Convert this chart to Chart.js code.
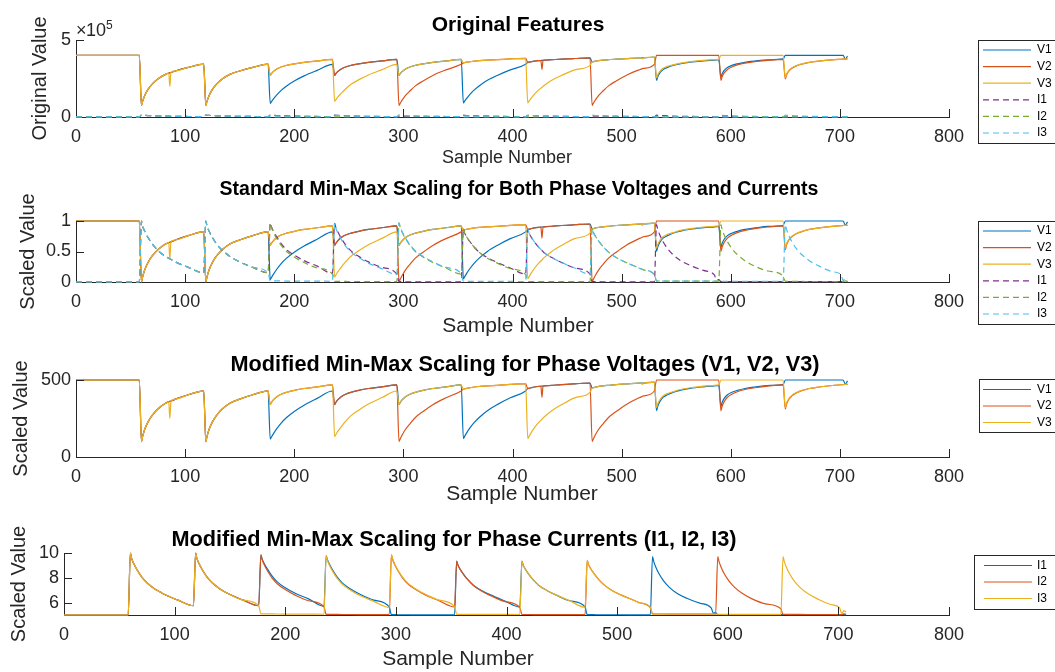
<!DOCTYPE html>
<html>
<head>
<meta charset="utf-8">
<title>Feature scaling</title>
<script src="https://cdn.jsdelivr.net/npm/chart.js@4.4.1/dist/chart.umd.min.js"></script>
<style>
  body { margin: 0; background: #fff; }
  #wrap { position: relative; width: 1055px; height: 672px; overflow: hidden; }
  #wrap canvas { position: absolute; left: 0; }
</style>
</head>
<body>
<div id="wrap">
  <canvas id="p1" width="1055" height="168" style="top:0px"></canvas>
  <canvas id="p2" width="1055" height="172" style="top:168px"></canvas>
  <canvas id="p3" width="1055" height="170" style="top:340px"></canvas>
  <canvas id="p4" width="1055" height="162" style="top:510px"></canvas>
</div>
<script>
// sample numbers of the stored points (one row per fault window)
const samples = [
  0, 58,
  60, 61, 63, 66, 70, 75, 82, 85, 86, 87, 91, 103, 117,
  119, 120, 122, 125, 129, 134, 141, 150, 162, 176,
  178, 179, 181, 184, 188, 193, 200, 209, 221, 235,
  237, 238, 240, 243, 247, 252, 259, 268, 280, 294,
  296, 297, 299, 302, 306, 311, 318, 327, 339, 353,
  355, 356, 358, 361, 365, 370, 377, 386, 398, 412,
  414, 415, 417, 420, 424, 426, 427, 428, 429, 436, 445, 457, 471,
  473, 474, 476, 479, 483, 488, 495, 504, 516, 518, 519, 520, 530,
  532, 533, 535, 538, 542, 547, 554, 563, 575, 585, 587, 589,
  591, 592, 594, 597, 601, 606, 613, 622, 634, 648,
  650, 651, 653, 656, 660, 665, 672, 681, 693, 701, 703, 705, 707
];

// phase voltages, kV
const v1 = [
  400, 400,
  75, 101, 140, 179, 215, 247, 277, 285, 287, 289, 299, 322, 343,
  75, 101, 140, 179, 215, 247, 277, 299, 322, 343,
  88, 98, 117, 143, 173, 202, 234, 267, 303, 342,
  270, 280, 296, 312, 325, 335, 345, 355, 364, 374,
  270, 280, 296, 312, 325, 335, 345, 355, 364, 374,
  91, 101, 121, 147, 176, 205, 238, 270, 306, 342,
  355, 356, 359, 363, 366, 367, 368, 368, 369, 372, 376, 380, 384,
  358, 359, 363, 366, 369, 372, 376, 379, 383, 383, 384, 384, 389,
  238, 260, 286, 309, 322, 335, 346, 356, 364, 369, 370, 371,
  260, 280, 303, 322, 335, 345, 355, 363, 371, 377,
  400, 400, 400, 400, 400, 400, 400, 400, 400, 400, 400, 377, 395
];
const v2 = [
  400, 400,
  75, 101, 140, 179, 215, 247, 277, 285, 287, 289, 299, 322, 343,
  75, 101, 140, 179, 215, 247, 277, 299, 322, 343,
  270, 280, 296, 312, 325, 335, 345, 355, 364, 374,
  270, 280, 296, 312, 325, 335, 345, 355, 364, 374,
  75, 88, 111, 140, 169, 202, 234, 270, 306, 342,
  351, 353, 356, 359, 363, 366, 369, 372, 377, 381,
  355, 356, 359, 363, 366, 367, 309, 368, 369, 372, 376, 380, 384,
  75, 88, 111, 140, 169, 202, 234, 270, 306, 311, 314, 316, 342,
  400, 400, 400, 400, 400, 400, 400, 400, 400, 400, 400, 400,
  238, 260, 286, 309, 325, 338, 350, 359, 368, 374,
  247, 270, 296, 316, 332, 343, 355, 363, 371, 375, 376, 377, 377
];
const v3 = [
  400, 400,
  75, 101, 140, 179, 215, 247, 277, 285, 198, 289, 299, 322, 343,
  75, 101, 140, 179, 215, 247, 277, 299, 322, 343,
  270, 280, 296, 312, 325, 335, 345, 355, 364, 374,
  101, 111, 130, 153, 182, 212, 241, 273, 306, 342,
  270, 280, 296, 312, 325, 335, 345, 355, 364, 374,
  351, 353, 356, 359, 363, 366, 369, 372, 377, 381,
  91, 101, 121, 147, 176, 187, 193, 199, 205, 238, 270, 306, 335,
  358, 359, 363, 366, 369, 372, 376, 379, 383, 383, 377, 384, 389,
  254, 273, 296, 316, 329, 338, 350, 359, 368, 372, 373, 374,
  400, 400, 400, 400, 400, 400, 400, 400, 400, 400,
  254, 277, 299, 319, 333, 345, 355, 363, 371, 375, 376, 377, 378
];

// phase currents, A
const i1 = [
  500, 500,
  12500, 11540, 10460, 9260, 7940, 6740, 5540, 5180, 5060, 4940, 4460, 3380, 2300,
  12500, 11540, 10460, 9260, 7940, 6740, 5540, 4460, 3380, 2300,
  12140, 11420, 10460, 9380, 8060, 6860, 5780, 4700, 3620, 2180,
  12020, 11300, 10340, 9140, 7820, 6620, 5540, 4460, 3380, 2060,
  560, 560, 555, 550, 550, 545, 540, 540, 535, 530,
  10940, 10220, 9380, 8420, 7340, 6260, 5300, 4340, 3260, 2060,
  10940, 10220, 9380, 8420, 7340, 6910, 6690, 6480, 6260, 5300, 4340, 3260, 2060,
  560, 560, 555, 555, 550, 550, 545, 545, 540, 540, 540, 540, 540,
  11780, 10940, 9740, 8420, 7100, 5900, 4700, 3740, 2780, 1880, 860, 980,
  600, 600, 595, 590, 590, 585, 580, 580, 575, 570,
  600, 600, 595, 590, 590, 585, 580, 580, 575, 570, 570, 570, 570
];
const i2 = [
  500, 500,
  12500, 11540, 10460, 9260, 7940, 6740, 5540, 5180, 5060, 4940, 4460, 3380, 2300,
  12500, 11540, 10460, 9260, 7940, 6740, 5540, 4460, 3380, 2300,
  12140, 11300, 10220, 9020, 7700, 6500, 5420, 4340, 3260, 2060,
  620, 620, 615, 610, 605, 600, 595, 590, 585, 580,
  12140, 11300, 10220, 9020, 7700, 6500, 5420, 4340, 3260, 2060,
  10940, 10220, 9380, 8420, 7340, 6260, 5180, 4220, 3140, 1940,
  600, 600, 595, 595, 590, 590, 590, 590, 585, 580, 575, 570, 565,
  11060, 10340, 9500, 8540, 7460, 6380, 5300, 4340, 3260, 3070, 2970, 2880, 1940,
  700, 700, 695, 690, 690, 685, 680, 680, 675, 670, 670, 670,
  11780, 10940, 9740, 8420, 7100, 5900, 4700, 3620, 2660, 1700,
  620, 620, 615, 610, 610, 605, 600, 600, 595, 590, 590, 740, 620
];
const i3 = [
  500, 500,
  12500, 11540, 10460, 9260, 7940, 6740, 5540, 5180, 5060, 4940, 4460, 3380, 2300,
  12500, 11540, 10460, 9260, 7940, 6740, 5540, 4460, 3380, 2300,
  720, 720, 710, 710, 700, 690, 680, 670, 660, 650,
  12020, 11180, 10100, 8900, 7580, 6380, 5300, 4220, 3140, 1940,
  12140, 11420, 10340, 9140, 7820, 6620, 5540, 4460, 3380, 2120,
  640, 640, 635, 630, 625, 620, 615, 610, 605, 600,
  10940, 10220, 9380, 8420, 7340, 6910, 6690, 6480, 6260, 5300, 4340, 3260, 2000,
  11060, 10340, 9500, 8540, 7460, 6380, 5300, 4340, 3260, 3070, 2970, 2880, 2000,
  680, 680, 675, 670, 670, 665, 660, 660, 655, 650, 650, 650,
  640, 640, 635, 630, 630, 625, 620, 620, 615, 610,
  11780, 10940, 9740, 8420, 7100, 5900, 4700, 3620, 2540, 1940, 740, 1340, 1100
];

const xTicks = [0, 100, 200, 300, 400, 500, 600, 700, 800];
const origTicks = [0, 500000];
const origTickLabels = ['0', '5'];
const stdTicks = [0, 0.5, 1];
const stdTickLabels = ['0', '0.5', '1'];
const modVTicks = [0, 500];
const modITicks = [6, 8, 10];

// target ranges of the modified min-max scaling
const modVRange = [100, 500];
const modIRange = [5, 10];

const COLORS = ['#0072BD', '#D95319', '#EDB120', '#7E2F8E', '#77AC30', '#4DBEEE'];
const INK = '#262626';
const FONT = '"Liberation Sans", Arial, Helvetica, sans-serif';
const WIDTH = 1055;
const AXIS_RIGHT = 949;

Chart.defaults.font.family = FONT;
Chart.defaults.color = INK;

function minMax(arr) {
  const lo = Math.min(...arr), hi = Math.max(...arr);
  return arr.map(v => (v - lo) / (hi - lo));
}
function rescale(arr, range) {
  return minMax(arr).map(s => range[0] + s * (range[1] - range[0]));
}
function toPoints(arr) {
  return samples.map((x, k) => ({ x: x, y: arr[k] }));
}
function lineSet(label, values, color, dashed, order) {
  return {
    label: label,
    data: toPoints(values),
    borderColor: color,
    borderWidth: 1.2,
    borderDash: dashed ? [6, 4] : [],
    pointRadius: 0,
    fill: false,
    cubicInterpolationMode: 'monotone',
    clip: false,
    order: order
  };
}

const volts = [v1, v2, v3].map(a => a.map(v => v * 1000));
const amps = [i1, i2, i3];

const panels = [
  {
    id: 'p1', top: 0, height: 168, plotTop: 40, plotBottom: 117, left: 76,
    title: { text: 'Original Features', x: 518, y: 25, size: 21 },
    xLabel: { x: 507, y: 158, size: 18 },
    yLabel: { text: 'Original Value', x: 40, size: 20 },
    yMin: 0, yMax: 500000, yTicks: origTicks, yLabels: origTickLabels,
    exponent: true,
    legend: { x: 978, y: 40, h: 103, row0: 50, gap: 16.6, x0: 983, x1: 1031, tx: 1037 },
    datasets: [
      lineSet('V1', volts[0], COLORS[0], false, 6),
      lineSet('V2', volts[1], COLORS[1], false, 5),
      lineSet('V3', volts[2], COLORS[2], false, 4),
      lineSet('I1', amps[0], COLORS[3], true, 3),
      lineSet('I2', amps[1], COLORS[4], true, 2),
      lineSet('I3', amps[2], COLORS[5], true, 1)
    ]
  },
  {
    id: 'p2', top: 168, height: 172, plotTop: 221, plotBottom: 282, left: 76,
    title: { text: 'Standard Min-Max Scaling for Both Phase Voltages and Currents', x: 519, y: 190, size: 19.5 },
    xLabel: { x: 518, y: 326, size: 21 },
    yLabel: { text: 'Scaled Value', x: 28, size: 20 },
    yMin: 0, yMax: 1, yTicks: stdTicks, yLabels: stdTickLabels,
    legend: { x: 978, y: 221, h: 103, row0: 231, gap: 16.6, x0: 983, x1: 1031, tx: 1037 },
    datasets: [
      lineSet('V1', minMax(v1), COLORS[0], false, 6),
      lineSet('V2', minMax(v2), COLORS[1], false, 5),
      lineSet('V3', minMax(v3), COLORS[2], false, 4),
      lineSet('I1', minMax(i1), COLORS[3], true, 3),
      lineSet('I2', minMax(i2), COLORS[4], true, 2),
      lineSet('I3', minMax(i3), COLORS[5], true, 1)
    ]
  },
  {
    id: 'p3', top: 340, height: 170, plotTop: 380, plotBottom: 457, left: 76,
    title: { text: 'Modified Min-Max Scaling for Phase Voltages (V1, V2, V3)', x: 525, y: 365, size: 21.7 },
    xLabel: { x: 522, y: 494, size: 21 },
    yLabel: { text: 'Scaled Value', x: 21, size: 20 },
    yMin: 0, yMax: 500, yTicks: modVTicks, yLabels: modVTicks.map(String),
    legend: { x: 979, y: 379, h: 53, row0: 389.5, gap: 16.5, x0: 983, x1: 1031, tx: 1037 },
    datasets: [
      lineSet('V1', rescale(v1, modVRange), COLORS[0], false, 3),
      lineSet('V2', rescale(v2, modVRange), COLORS[1], false, 2),
      lineSet('V3', rescale(v3, modVRange), COLORS[2], false, 1)
    ]
  },
  {
    id: 'p4', top: 510, height: 162, plotTop: 553, plotBottom: 615, left: 64,
    title: { text: 'Modified Min-Max Scaling for Phase Currents (I1, I2, I3)', x: 454, y: 540, size: 21.7 },
    xLabel: { x: 458, y: 659, size: 21 },
    yLabel: { text: 'Scaled Value', x: 19, size: 20 },
    yMin: 5, yMax: 10, yTicks: modITicks, yLabels: modITicks.map(String),
    legend: { x: 974, y: 555, h: 54, row0: 565.5, gap: 16.5, x0: 984, x1: 1032, tx: 1037 },
    datasets: [
      lineSet('I1', rescale(i1, modIRange), COLORS[0], false, 3),
      lineSet('I2', rescale(i2, modIRange), COLORS[1], false, 2),
      lineSet('I3', rescale(i3, modIRange), COLORS[2], false, 1)
    ]
  }
];

// inward ticks, titles, axis labels and the boxed legend, MATLAB style
function decorations(p) {
  return {
    id: 'decorations',
    afterDraw(chart) {
      const ctx = chart.ctx;
      const area = chart.chartArea;
      const xs = chart.scales.x, ys = chart.scales.y;
      const off = p.top;
      ctx.save();

      ctx.strokeStyle = INK;
      ctx.lineWidth = 1;
      ctx.beginPath();
      xs.ticks.forEach(t => {
        if (t.value === xs.min) return;
        const px = Math.round(xs.getPixelForValue(t.value)) + 0.5;
        ctx.moveTo(px, area.bottom);
        ctx.lineTo(px, area.bottom - 8);
      });
      ys.ticks.forEach(t => {
        if (t.value === ys.min) return;
        const py = Math.round(ys.getPixelForValue(t.value)) + 0.5;
        ctx.moveTo(area.left, py);
        ctx.lineTo(area.left + 8, py);
      });
      ctx.stroke();

      ctx.textAlign = 'center';
      ctx.textBaseline = 'middle';
      ctx.fillStyle = '#000';
      ctx.font = 'bold ' + p.title.size + 'px ' + FONT;
      ctx.fillText(p.title.text, p.title.x, p.title.y - off);

      ctx.fillStyle = INK;
      ctx.font = p.xLabel.size + 'px ' + FONT;
      ctx.fillText('Sample Number', p.xLabel.x, p.xLabel.y - off);

      ctx.save();
      ctx.translate(p.yLabel.x, (area.top + area.bottom) / 2);
      ctx.rotate(-Math.PI / 2);
      ctx.font = p.yLabel.size + 'px ' + FONT;
      ctx.fillText(p.yLabel.text, 0, 0);
      ctx.restore();

      if (p.exponent) {
        ctx.textAlign = 'left';
        ctx.textBaseline = 'alphabetic';
        ctx.font = '18px ' + FONT;
        ctx.fillText('\u00d7', 76, 35.5 - off);
        ctx.fillText('10', 86, 35.7 - off);
        ctx.font = '12px ' + FONT;
        ctx.fillText('5', 106, 28.5 - off);
      }

      const L = p.legend;
      const boxTop = L.y - off;
      ctx.fillStyle = '#fff';
      ctx.fillRect(L.x, boxTop, WIDTH + 10 - L.x, L.h);
      ctx.strokeStyle = INK;
      ctx.lineWidth = 1;
      ctx.setLineDash([]);
      ctx.strokeRect(L.x + 0.5, boxTop + 0.5, WIDTH + 10 - L.x, L.h);
      ctx.textAlign = 'left';
      ctx.textBaseline = 'middle';
      ctx.font = '12px ' + FONT;
      chart.data.datasets.forEach((ds, k) => {
        const y = L.row0 + k * L.gap - off;
        ctx.strokeStyle = ds.borderColor;
        ctx.lineWidth = ds.borderWidth;
        ctx.setLineDash(ds.borderDash);
        ctx.beginPath();
        ctx.moveTo(L.x0, y);
        ctx.lineTo(L.x1, y);
        ctx.stroke();
        ctx.setLineDash([]);
        ctx.fillStyle = '#000';
        ctx.fillText(ds.label, L.tx, y);
      });

      ctx.restore();
    }
  };
}

panels.forEach(p => {
  new Chart(document.getElementById(p.id), {
    type: 'line',
    data: { datasets: p.datasets },
    options: {
      responsive: false,
      animation: false,
      events: [],
      layout: { padding: { left: 0, right: WIDTH - AXIS_RIGHT, top: p.plotTop - p.top, bottom: 0 } },
      plugins: { legend: { display: false }, tooltip: { enabled: false }, title: { display: false } },
      scales: {
        x: {
          type: 'linear', min: 0, max: 800,
          grid: { display: false, drawTicks: false },
          border: { display: true, color: INK, width: 1 },
          ticks: { color: INK, font: { size: 18 }, padding: 9, maxRotation: 0, autoSkip: false },
          afterBuildTicks: s => { s.ticks = xTicks.map(v => ({ value: v })); },
          afterFit: s => { s.height = p.top + p.height - p.plotBottom; }
        },
        y: {
          type: 'linear', min: p.yMin, max: p.yMax,
          grid: { display: false, drawTicks: false },
          border: { display: true, color: INK, width: 1 },
          ticks: { color: INK, font: { size: 18 }, padding: 5, autoSkip: false,
                   callback: (value, index) => p.yLabels[index] },
          afterBuildTicks: s => { s.ticks = p.yTicks.map(v => ({ value: v })); },
          afterFit: s => { s.width = p.left; }
        }
      }
    },
    plugins: [decorations(p)]
  });
});
</script>
</body>
</html>
